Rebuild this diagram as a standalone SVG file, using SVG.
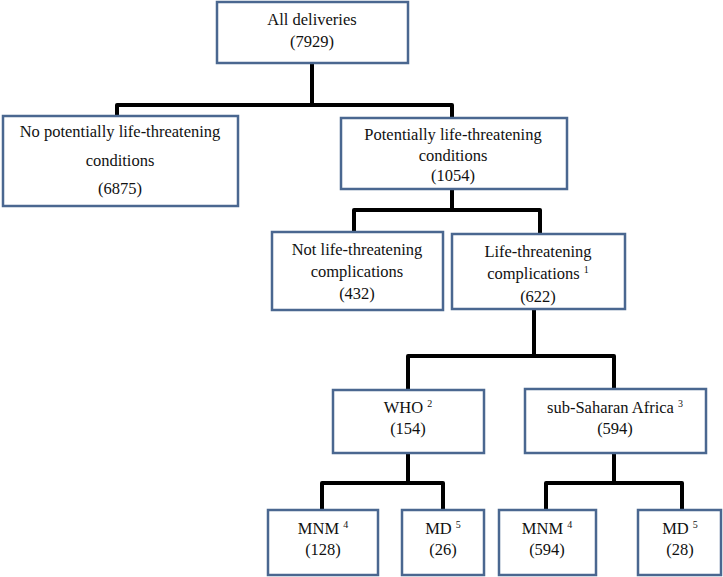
<svg xmlns="http://www.w3.org/2000/svg" width="723" height="577" viewBox="0 0 723 577">
<style>
.box{fill:#fff;stroke:#4a6790;stroke-width:2.5}
.t{font-family:"Liberation Serif","Times New Roman",serif;font-size:16.5px;fill:#111;text-anchor:middle}
.sup{font-size:10px}
.c{fill:none;stroke:#000;stroke-width:4;stroke-linejoin:round;stroke-linecap:butt}
</style>
<rect width="723" height="577" fill="#fff"/>
<g id="connectors">
<path class="c" d="M312,63 V105"/>
<path class="c" d="M117,116 V105 H452 V118"/>
<path class="c" d="M452,189 V210"/>
<path class="c" d="M354,232 V210 H540 V234"/>
<path class="c" d="M534,309 V356"/>
<path class="c" d="M408,390 V356 H614 V389"/>
<path class="c" d="M408,453 V483"/>
<path class="c" d="M322,510 V483 H443 V510"/>
<path class="c" d="M614,453 V483"/>
<path class="c" d="M546,510 V483 H682 V510"/>
</g>
<g id="all">
<rect class="box" x="217" y="2" width="191" height="61"/>
<text class="t" x="312" y="25">All deliveries</text>
<text class="t" x="312" y="47">(7929)</text>
</g>
<g id="no-plt">
<rect class="box" x="3" y="116" width="235" height="90"/>
<text class="t" x="120" y="137">No potentially life-threatening</text>
<text class="t" x="120" y="166">conditions</text>
<text class="t" x="120" y="194">(6875)</text>
</g>
<g id="plt">
<rect class="box" x="341" y="118" width="226" height="71"/>
<text class="t" x="453" y="140">Potentially life-threatening</text>
<text class="t" x="453" y="161">conditions</text>
<text class="t" x="453" y="181">(1054)</text>
</g>
<g id="not-lt">
<rect class="box" x="272" y="232" width="171" height="78"/>
<text class="t" x="357" y="255">Not life-threatening</text>
<text class="t" x="357" y="277">complications</text>
<text class="t" x="357" y="299">(432)</text>
</g>
<g id="lt">
<rect class="box" x="452" y="234" width="173" height="75"/>
<text class="t" x="538" y="257">Life-threatening</text>
<text class="t" x="538" y="279">complications <tspan class="sup" dy="-6">1</tspan></text>
<text class="t" x="538" y="302">(622)</text>
</g>
<g id="who">
<rect class="box" x="333" y="390" width="151" height="63"/>
<text class="t" x="408" y="413">WHO <tspan class="sup" dy="-6">2</tspan></text>
<text class="t" x="408" y="434">(154)</text>
</g>
<g id="ssa">
<rect class="box" x="525" y="389" width="181" height="64"/>
<text class="t" x="615" y="413">sub-Saharan Africa <tspan class="sup" dy="-6">3</tspan></text>
<text class="t" x="615" y="434">(594)</text>
</g>
<g id="mnm-who">
<rect class="box" x="268" y="510" width="110" height="65"/>
<text class="t" x="323" y="534">MNM <tspan class="sup" dy="-6">4</tspan></text>
<text class="t" x="323" y="555">(128)</text>
</g>
<g id="md-who">
<rect class="box" x="402" y="510" width="82" height="65"/>
<text class="t" x="443" y="534">MD <tspan class="sup" dy="-6">5</tspan></text>
<text class="t" x="443" y="555">(26)</text>
</g>
<g id="mnm-ssa">
<rect class="box" x="499" y="510" width="97" height="65"/>
<text class="t" x="547" y="534">MNM <tspan class="sup" dy="-6">4</tspan></text>
<text class="t" x="547" y="555">(594)</text>
</g>
<g id="md-ssa">
<rect class="box" x="638" y="510" width="83" height="65"/>
<text class="t" x="680" y="534">MD <tspan class="sup" dy="-6">5</tspan></text>
<text class="t" x="680" y="555">(28)</text>
</g>
</svg>
